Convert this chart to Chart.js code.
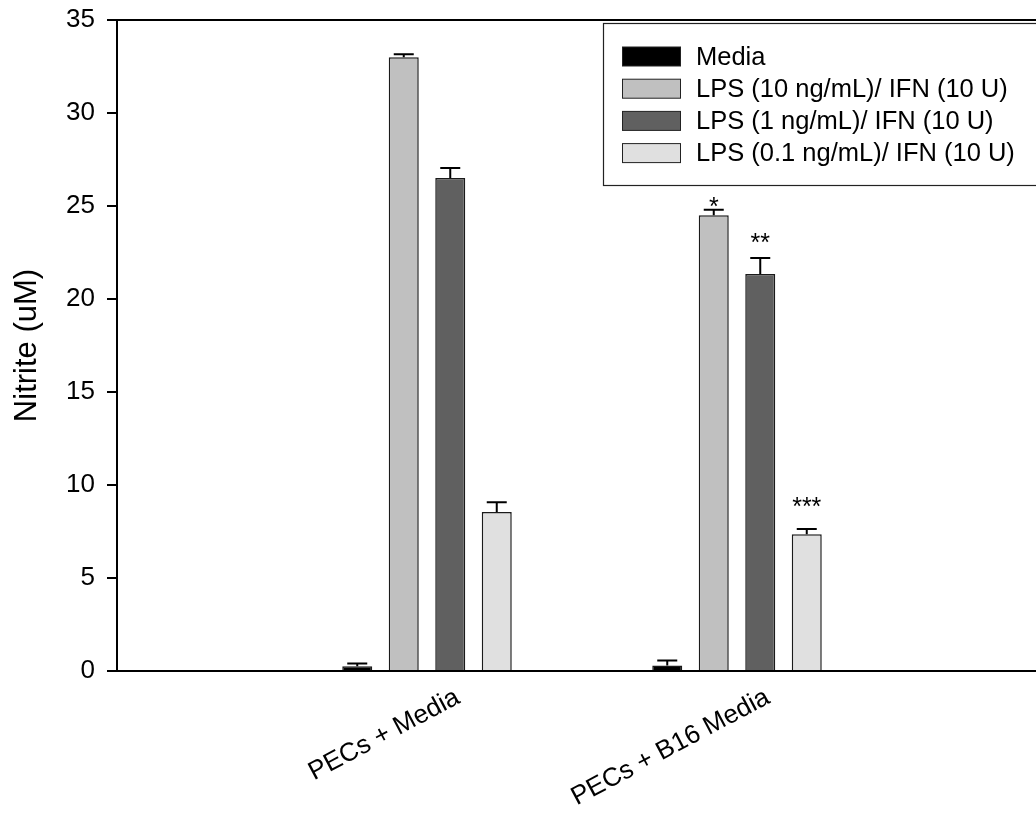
<!DOCTYPE html>
<html><head><meta charset="utf-8">
<script src="https://cdn.jsdelivr.net/npm/chart.js@4"></script>
<style>html,body{margin:0;padding:0;background:#fff;overflow:hidden;width:1036px;height:813px}canvas{display:block}</style>
</head><body>
<canvas id="c" width="1080" height="813"></canvas>
<script>
const categories = ['', 'PECs + Media', 'PECs + B16 Media', ''];
const seriesNames = ['Media', 'LPS (10 ng/mL)/ IFN (10 U)', 'LPS (1 ng/mL)/ IFN (10 U)', 'LPS (0.1 ng/mL)/ IFN (10 U)'];
const mediaValues = [null, 0.25, 0.3, null];
const lps10Values = [null, 33.0, 24.5, null];
const lps1Values  = [null, 26.5, 21.35, null];
const lps01Values = [null, 8.55, 7.35, null];
const mediaErr = [null, 0.15, 0.27, null];
const lps10Err = [null, 0.16, 0.3, null];
const lps1Err  = [null, 0.54, 0.86, null];
const lps01Err = [null, 0.52, 0.28, null];
const mediaSig = ['', '', '', ''];
const lps10Sig = ['', '', '*', ''];
const lps1Sig  = ['', '', '**', ''];
const lps01Sig = ['', '', '***', ''];
const mediaSigY = [null, null, null, null];
const lps10SigY = [null, null, 25.3, null];
const lps1SigY  = [null, null, 23.35, null];
const lps01SigY = [null, null, 9.15, null];
const yTicks = [0, 5, 10, 15, 20, 25, 30, 35];
const yTitle = 'Nitrite (uM)';

const FONT = "'Liberation Sans', Arial, sans-serif";
const fills = ['#000000', '#c0c0c0', '#606060', '#e0e0e0'];

function mk(i, data, errs, sig, sigY) {
  return { label: seriesNames[i], data: data, errors: errs, sig: sig, sigY: sigY,
    backgroundColor: fills[i], borderColor: '#1a1a1a', borderWidth: 1.5,
    categoryPercentage: 0.6, barPercentage: 0.645 };
}

const extras = {
  id: 'extras',
  afterDatasetsDraw(chart) {
    const ctx = chart.ctx, ys = chart.scales.y, ca = chart.chartArea;
    ctx.save();
    ctx.strokeStyle = '#000'; ctx.lineWidth = 2;
    chart.data.datasets.forEach((ds, di) => {
      const meta = chart.getDatasetMeta(di);
      meta.data.forEach((bar, i) => {
        const v = ds.data[i], e = ds.errors[i];
        if (v == null || e == null) return;
        const x = bar.x, y0 = ys.getPixelForValue(v), y1 = ys.getPixelForValue(v + e);
        ctx.beginPath();
        ctx.moveTo(x, y0); ctx.lineTo(x, y1);
        ctx.moveTo(x - 10, y1); ctx.lineTo(x + 10, y1);
        ctx.stroke();
        if (ds.sig[i]) {
          ctx.fillStyle = '#000';
          ctx.font = '25px ' + FONT;
          ctx.textAlign = 'center'; ctx.textBaseline = 'alphabetic';
          ctx.fillText(ds.sig[i], x, ys.getPixelForValue(ds.sigY[i]) + 0.57 * 25);
        }
      });
    });
    ctx.beginPath();
    ctx.moveTo(ca.left, ca.top); ctx.lineTo(ca.right, ca.top);
    ctx.stroke();
    ctx.restore();
  },
  afterDraw(chart) {
    const ctx = chart.ctx;
    ctx.save();
    const bx = 603, by = 23, bw = 440, bh = 162;
    ctx.fillStyle = '#fff';
    ctx.fillRect(bx, by, bw, bh);
    ctx.strokeStyle = '#222'; ctx.lineWidth = 1.2;
    ctx.strokeRect(bx + 0.5, by + 0.5, bw, bh);
    chart.data.datasets.forEach((ds, i) => {
      const cy = 56.5 + i * 32.2;
      ctx.fillStyle = ds.backgroundColor;
      ctx.fillRect(622, cy - 9.5, 59, 19);
      ctx.strokeStyle = '#222'; ctx.lineWidth = 1;
      ctx.strokeRect(622.5, cy - 9.5, 58, 19);
      ctx.fillStyle = '#000';
      ctx.font = '25.5px ' + FONT;
      ctx.textAlign = 'left'; ctx.textBaseline = 'middle';
      ctx.fillText(ds.label, 696, cy + 1);
    });
    ctx.restore();
  }
};

new Chart(document.getElementById('c'), {
  type: 'bar',
  data: {
    labels: categories,
    datasets: [
      mk(0, mediaValues, mediaErr, mediaSig, mediaSigY),
      mk(1, lps10Values, lps10Err, lps10Sig, lps10SigY),
      mk(2, lps1Values, lps1Err, lps1Sig, lps1SigY),
      mk(3, lps01Values, lps01Err, lps01Sig, lps01SigY)
    ]
  },
  options: {
    responsive: false,
    animation: false,
    devicePixelRatio: 1,
    layout: { padding: { top: 20, right: 33, left: 0, bottom: 0 } },
    plugins: { legend: { display: false }, tooltip: { enabled: false } },
    scales: {
      x: {
        offset: false,
        grid: { display: true, drawOnChartArea: false, drawTicks: false, color: '#000' },
        border: { display: true, color: '#000', width: 2 },
        ticks: { autoSkip: false, minRotation: 28, maxRotation: 28, labelOffset: 31, padding: 11,
          color: '#000', font: { family: FONT, size: 26 } },
        afterFit(s) { s.height = 142; s.paddingLeft = 0; s.paddingRight = 0; }
      },
      y: {
        min: 0, max: 35,
        afterBuildTicks(s) { s.ticks = yTicks.map(v => ({ value: v })); },
        grid: { drawOnChartArea: false, drawTicks: true, tickLength: 10, color: '#000', lineWidth: 2 },
        border: { display: true, color: '#000', width: 2 },
        ticks: { padding: 12, color: '#000', font: { family: FONT, size: 26 } },
        title: { display: true, text: yTitle, color: '#000', font: { family: FONT, size: 31 }, padding: { top: 9, bottom: 0 } },
        afterFit(s) { s.width = 117; s.paddingTop = 0; s.paddingBottom = 0; }
      }
    }
  },
  plugins: [extras]
});
</script>
</body></html>
